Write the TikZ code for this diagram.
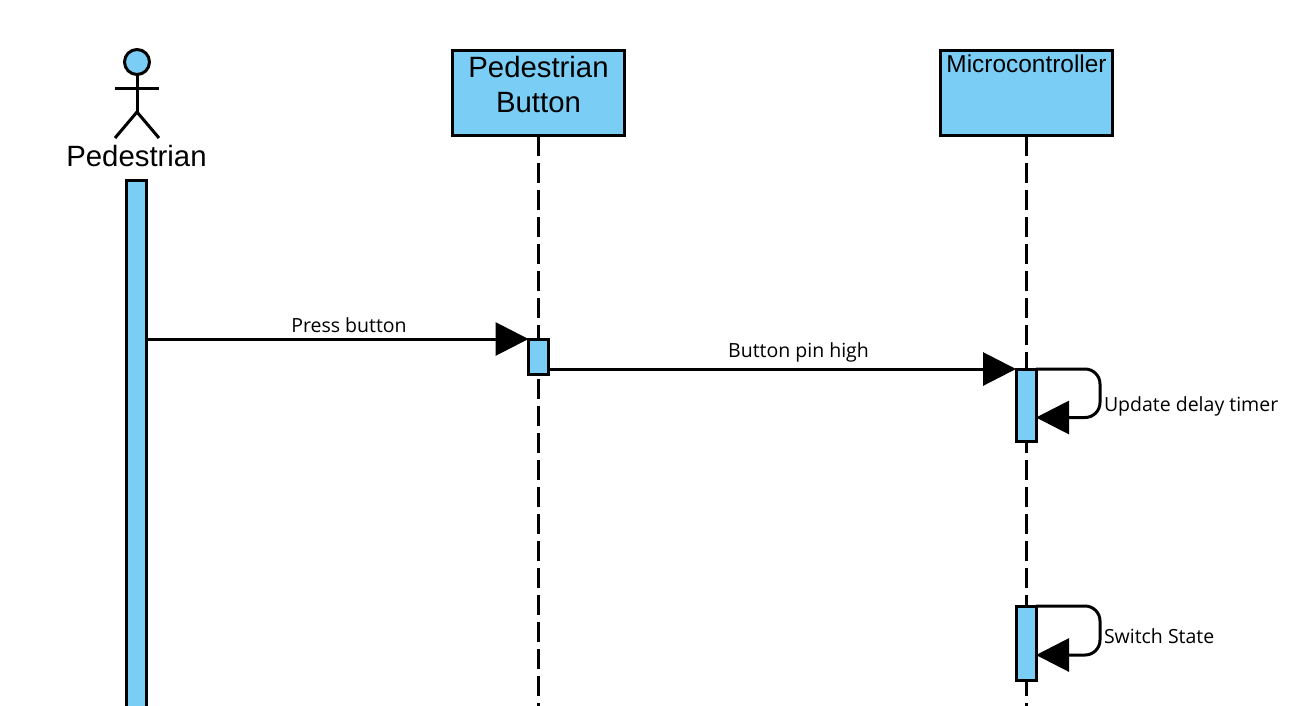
\documentclass[tikz,border=0pt]{standalone}
\usepackage{fontspec}
\setmainfont{Liberation Sans}
\newfontfamily\labelfont{Open Sans}
\usetikzlibrary{arrows.meta,positioning,calc}
\definecolor{skyfill}{HTML}{7ACEF6}
\begin{document}
\begin{tikzpicture}[
  x=0.02cm,y=-0.02cm,
  line width=0.06cm,
  box/.style={draw=black,fill=skyfill,outer sep=0pt,inner sep=0pt,minimum width=3.46cm,minimum height=1.72cm},
  bar/.style={draw=black,fill=skyfill,outer sep=0pt,inner sep=0pt,minimum width=0.4cm},
  head/.style={font=\fontsize{16.7}{19.6}\selectfont,align=center,inner sep=0pt},
  msg/.style={font=\labelfont\fontsize{11.1}{14}\selectfont,inner sep=0pt},
  lifeline/.style={draw=black,dash pattern=on 0.4cm off 0.14cm},
  arr/.style={-{Triangle[length=0.66cm,width=0.66cm]},draw=black,rounded corners=0.3cm}
]
\path[use as bounding box,clip] (0,0) rectangle (1304,706);
% lifelines
\node[box] (button) at (538.5,93) {};
\node[box,minimum width=3.44cm] (micro) at (1026,93) {};
\coordinate (buttonend) at (538.5,712);
\coordinate (microend) at (1026,712);
\draw[lifeline] (button.south) -- (buttonend);
\draw[lifeline] (micro.south) -- (microend);
\node[head] (buttontext) at (538.5,84.5) {Pedestrian\\Button};
\node[head,font=\fontsize{13.9}{16}\selectfont] (microtext) at (1026.5,64) {Microcontroller};
% actor
\node[draw=black,fill=skyfill,circle,minimum size=0.5cm,inner sep=0pt,outer sep=0pt] (actorhead) at (137,62) {};
\coordinate (hip) at (137,112);
\coordinate (armleft) at (115,89);
\coordinate (armright) at (159,89);
\coordinate (footleft) at (115,138);
\coordinate (footright) at (159,138);
\draw (actorhead.south) -- (hip);
\draw (armleft) -- (armright);
\draw (footleft) -- (hip) -- (footright);
\node[head] (actortext) at (136.5,156) {Pedestrian};
% activations
\node[bar,minimum height=10.8cm] (pedbar) at (136.5,450) {};
\node[bar,minimum height=0.7cm] (buttonbar) at (538.5,356.5) {};
\node[bar,minimum height=1.46cm] (updatebar) at (1026,405.5) {};
\node[bar,minimum height=1.48cm] (switchbar) at (1026,643) {};
% messages
\draw[arr] (pedbar.east |- buttonbar.north) -- (buttonbar.north west);
\node[msg] (presstext) at (349,325) {Press button};
\draw[arr] (buttonbar.east |- updatebar.north) -- (updatebar.north west);
\node[msg] (pintext) at (798.5,352) {Button pin high};
\draw[arr] (updatebar.north east) -- ++(64,0) -- ++(0,48.5) -- ($(updatebar.north east)+(0,48.5)$);
\node[msg,anchor=west] (updatetext) at (1102.5,406) {Update delay timer};
\draw[arr] (switchbar.north east) -- ++(64,0) -- ++(0,49) -- ($(switchbar.north east)+(0,49)$);
\node[msg,anchor=west] (switchtext) at (1102.5,636) {Switch State};
\end{tikzpicture}
\end{document}
